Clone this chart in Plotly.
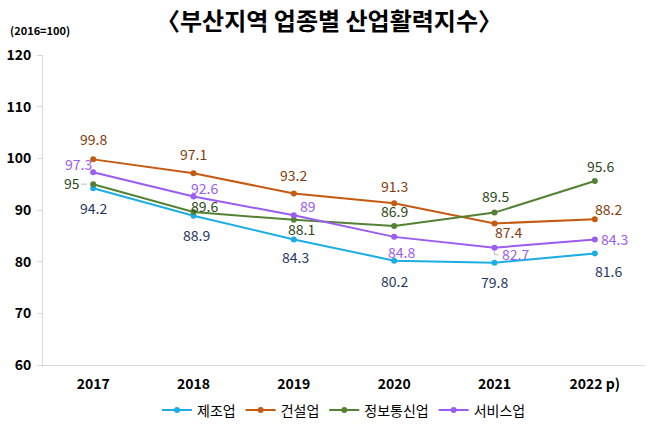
import plotly.graph_objects as go

years = ["2017", "2018", "2019", "2020", "2021", "2022 p)"]
manufacturing = [94.2, 88.9, 84.3, 80.2, 79.8, 81.6]
construction = [99.8, 97.1, 93.2, 91.3, 87.4, 88.2]
ict = [95.0, 89.6, 88.1, 86.9, 89.5, 95.6]
services = [97.3, 92.6, 89.0, 84.8, 82.7, 84.3]

font = "Noto Sans CJK KR"

# label offsets in pixels (dx, dy) relative to each point (dy positive = up)
series = [
    ("제조업", manufacturing, "#1CADE4", "#1F3864",
     [(0, -20), (3, -19), (2, -18), (0, -20), (0, -19), (14, -18)]),
    ("건설업", construction, "#C55A11", "#843C0C",
     [(0, 20), (0, 19), (0, 18), (0, 17), (14, -9), (14, 10)]),
    ("정보통신업", ict, "#548235", "#2E4A1A",
     [(-21, 1), (11, 6), (8, -9), (0, 15), (1, 17), (6, 15)]),
    ("서비스업", services, "#9B5CF0", "#9B5CF0",
     [(-15, 8), (11, 9), (14, 9), (7, -15), (21, -6), (20, 0)]),
]

fig = go.Figure()
annotations = []
for name, vals, lc, tc, offs in series:
    fig.add_trace(go.Scatter(
        x=years, y=vals, name=name, mode="lines+markers",
        line=dict(color=lc, width=2), marker=dict(color=lc, size=6),
        cliponaxis=False,
    ))
    for i, (yv, (dx, dy)) in enumerate(zip(vals, offs)):
        annotations.append(dict(
            x=i, y=yv, xref="x", yref="y", text=f"{yv:g}",
            showarrow=False, xshift=dx, yshift=dy,
            font=dict(color=tc, size=14, family=font),
        ))

annotations.append(dict(text="<b>(2016=100)</b>", x=-0.058, xref="paper", xanchor="left",
                        y=(427 - 30 - 62) / (427 - 55 - 62), yref="paper", yanchor="middle",
                        showarrow=False, font=dict(size=11, family=font, color="black")))

# small leader lines next to two labels
shapes = [
    dict(type="line", xref="x", yref="y", xsizemode="pixel", xanchor=0,
         x0=-12, x1=-6, y0=ict[0], y1=ict[0], line=dict(color="#BFBFBF", width=1)),
    dict(type="line", xref="x", yref="y", xsizemode="pixel", ysizemode="pixel",
         xanchor=4, yanchor=services[4], x0=0, x1=0, y0=-3, y1=-7,
         line=dict(color="#BFBFBF", width=1)),
    dict(type="line", xref="x", yref="y", xsizemode="pixel", ysizemode="pixel",
         xanchor=4, yanchor=services[4], x0=0, x1=4, y0=-7, y1=-7,
         line=dict(color="#BFBFBF", width=1)),
]

fig.update_layout(
    width=658, height=427,
    margin=dict(l=43, r=13, t=55, b=62, autoexpand=False),
    paper_bgcolor="white", plot_bgcolor="white",
    font=dict(family=font, color="black"),
    title=dict(text="<b>〈부산지역 업종별 산업활력지수〉</b>", x=0.5, xanchor="center",
               y=1 - 22 / 427, yanchor="middle", font=dict(size=24, family=font, color="black")),
    showlegend=True,
    legend=dict(orientation="h", x=0.5, xanchor="center", y=-0.095, yanchor="top",
                font=dict(size=14, family=font), itemwidth=30, tracegroupgap=0),
    annotations=annotations,
    shapes=shapes,
)

fig.update_xaxes(range=[-0.5, 5.5], showline=True, linecolor="#D9D9D9", linewidth=1,
                 showgrid=False, ticks="", tickfont=dict(size=14, family=font, color="black"),
                 ticklabelstandoff=6, tickprefix="<b>", ticksuffix="</b>")
fig.update_yaxes(range=[60, 120], dtick=10, showline=True, linecolor="#D9D9D9",
                 linewidth=1, showgrid=False, ticks="outside", ticklen=5,
                 tickcolor="#D9D9D9", zeroline=False, ticklabelstandoff=3,
                 tickfont=dict(size=14, family=font, color="black"),
                 tickprefix="<b>", ticksuffix="</b>")

fig.write_html("out.html", config={"displayModeBar": False},
               post_script="document.body.style.margin='0';")
